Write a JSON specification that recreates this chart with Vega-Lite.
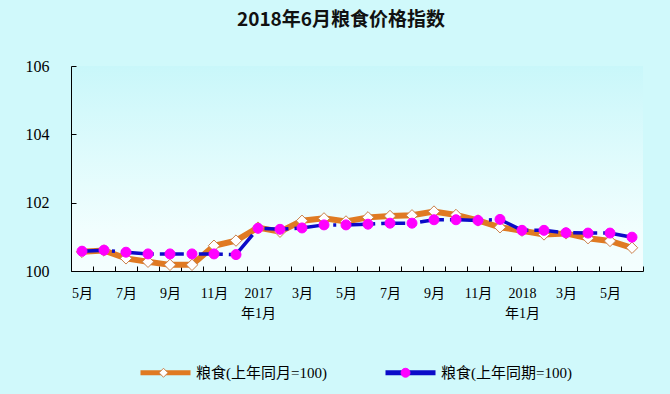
{
  "$schema": "https://vega.github.io/schema/vega-lite/v6.json",
  "width": 572,
  "height": 205,
  "autosize": {"type": "none"},
  "padding": {"left": 71, "top": 66, "right": 27, "bottom": 123},
  "background": "#d0f9fb",
  "title": {"text": "2018年6月粮食价格指数", "fontSize": 19, "font": "Noto Sans CJK SC", "fontWeight": "bold", "offset": 28, "dx": -16, "color": "#111111"},
  "config": {
    "view": {"stroke": null, "fill": {"gradient": "linear", "x1": 0, "y1": 0, "x2": 0, "y2": 1, "stops": [{"offset": 0, "color": "#c9f7fa"}, {"offset": 0.8, "color": "#f1fefe"}, {"offset": 1, "color": "#f4fefe"}]}},
    "axis": {"domainColor": "#000000", "tickColor": "#000000", "labelColor": "#000000", "grid": false, "title": null, "labelFont": "Liberation Serif, Noto Sans CJK SC"}
  },
  "data": {"values": [
    {"m": "2016-05", "s": "粮食(上年同月=100)", "v": 100.56},
    {"m": "2016-06", "s": "粮食(上年同月=100)", "v": 100.6},
    {"m": "2016-07", "s": "粮食(上年同月=100)", "v": 100.37},
    {"m": "2016-08", "s": "粮食(上年同月=100)", "v": 100.27},
    {"m": "2016-09", "s": "粮食(上年同月=100)", "v": 100.18},
    {"m": "2016-10", "s": "粮食(上年同月=100)", "v": 100.18},
    {"m": "2016-11", "s": "粮食(上年同月=100)", "v": 100.74},
    {"m": "2016-12", "s": "粮食(上年同月=100)", "v": 100.89},
    {"m": "2017-01", "s": "粮食(上年同月=100)", "v": 101.27},
    {"m": "2017-02", "s": "粮食(上年同月=100)", "v": 101.15},
    {"m": "2017-03", "s": "粮食(上年同月=100)", "v": 101.47},
    {"m": "2017-04", "s": "粮食(上年同月=100)", "v": 101.54},
    {"m": "2017-05", "s": "粮食(上年同月=100)", "v": 101.45},
    {"m": "2017-06", "s": "粮食(上年同月=100)", "v": 101.57},
    {"m": "2017-07", "s": "粮食(上年同月=100)", "v": 101.61},
    {"m": "2017-08", "s": "粮食(上年同月=100)", "v": 101.63},
    {"m": "2017-09", "s": "粮食(上年同月=100)", "v": 101.74},
    {"m": "2017-10", "s": "粮食(上年同月=100)", "v": 101.64},
    {"m": "2017-11", "s": "粮食(上年同月=100)", "v": 101.48},
    {"m": "2017-12", "s": "粮食(上年同月=100)", "v": 101.28},
    {"m": "2018-01", "s": "粮食(上年同月=100)", "v": 101.18},
    {"m": "2018-02", "s": "粮食(上年同月=100)", "v": 101.07},
    {"m": "2018-03", "s": "粮食(上年同月=100)", "v": 101.1},
    {"m": "2018-04", "s": "粮食(上年同月=100)", "v": 100.96},
    {"m": "2018-05", "s": "粮食(上年同月=100)", "v": 100.88},
    {"m": "2018-06", "s": "粮食(上年同月=100)", "v": 100.68},
    {"m": "2016-05", "s": "粮食(上年同期=100)", "v": 100.58},
    {"m": "2016-06", "s": "粮食(上年同期=100)", "v": 100.61},
    {"m": "2016-07", "s": "粮食(上年同期=100)", "v": 100.55},
    {"m": "2016-08", "s": "粮食(上年同期=100)", "v": 100.5},
    {"m": "2016-09", "s": "粮食(上年同期=100)", "v": 100.5},
    {"m": "2016-10", "s": "粮食(上年同期=100)", "v": 100.5},
    {"m": "2016-11", "s": "粮食(上年同期=100)", "v": 100.5},
    {"m": "2016-12", "s": "粮食(上年同期=100)", "v": 100.48},
    {"m": "2017-01", "s": "粮食(上年同期=100)", "v": 101.25},
    {"m": "2017-02", "s": "粮食(上年同期=100)", "v": 101.22},
    {"m": "2017-03", "s": "粮食(上年同期=100)", "v": 101.26},
    {"m": "2017-04", "s": "粮食(上年同期=100)", "v": 101.35},
    {"m": "2017-05", "s": "粮食(上年同期=100)", "v": 101.35},
    {"m": "2017-06", "s": "粮食(上年同期=100)", "v": 101.37},
    {"m": "2017-07", "s": "粮食(上年同期=100)", "v": 101.4},
    {"m": "2017-08", "s": "粮食(上年同期=100)", "v": 101.4},
    {"m": "2017-09", "s": "粮食(上年同期=100)", "v": 101.5},
    {"m": "2017-10", "s": "粮食(上年同期=100)", "v": 101.5},
    {"m": "2017-11", "s": "粮食(上年同期=100)", "v": 101.48},
    {"m": "2017-12", "s": "粮食(上年同期=100)", "v": 101.51},
    {"m": "2018-01", "s": "粮食(上年同期=100)", "v": 101.19},
    {"m": "2018-02", "s": "粮食(上年同期=100)", "v": 101.19},
    {"m": "2018-03", "s": "粮食(上年同期=100)", "v": 101.12},
    {"m": "2018-04", "s": "粮食(上年同期=100)", "v": 101.11},
    {"m": "2018-05", "s": "粮食(上年同期=100)", "v": 101.11},
    {"m": "2018-06", "s": "粮食(上年同期=100)", "v": 100.99}
  ]},
  "transform": [{"calculate": "datum.s", "as": "marker"}],
  "encoding": {
    "x": {"field": "m", "type": "ordinal", "sort": null, "scale": {"paddingInner": 0, "paddingOuter": 0},
      "axis": {"tickBand": "extent", "tickSize": -5, "labelAngle": 0, "labelFontSize": 14, "labelPadding": 20, "labelLineHeight": 20, "labelOverlap": false, "labelBaseline": "top",
        "labelExpr": "parseInt(substring(datum.value,5,7)) == 1 ? [substring(datum.value,0,4), '年1月'] : (parseInt(substring(datum.value,5,7)) % 2 == 1 ? parseInt(substring(datum.value,5,7)) + '月' : '')"}},
    "y": {"field": "v", "type": "quantitative", "scale": {"domain": [100, 106], "zero": false, "nice": false},
      "axis": {"values": [100, 102, 104, 106], "format": "d", "tickSize": -5, "labelFontSize": 16, "labelPadding": 27}}
  },
  "layer": [
    {"transform": [{"filter": "datum.s == '粮食(上年同月=100)'"}],
      "mark": {"type": "line", "strokeWidth": 6},
      "encoding": {"color": {"field": "s", "type": "nominal", "sort": null,
        "scale": {"domain": ["粮食(上年同月=100)", "粮食(上年同期=100)"], "range": ["#e07a22", "#0b0bc8"]},
        "legend": {"title": null, "orient": "none", "legendX": 67, "legendY": 279, "direction": "horizontal", "symbolType": "stroke", "symbolSize": 2500, "symbolStrokeWidth": 5, "labelFontSize": 15, "labelFont": "Liberation Serif, Noto Sans CJK SC", "labelColor": "#000000", "columnPadding": 48, "labelOffset": 3, "labelLimit": 300, "zindex": 1}}}},
    {"transform": [{"filter": "datum.s == '粮食(上年同月=100)'"}],
      "mark": {"type": "point", "filled": true, "strokeWidth": 1, "size": 130, "opacity": 1},
      "encoding": {
        "shape": {"field": "marker", "type": "nominal", "sort": null,
          "scale": {"range": ["diamond", "circle"]},
          "legend": {"title": null, "orient": "none", "legendX": 67, "legendY": 299, "direction": "horizontal", "symbolSize": 80, "symbolStrokeWidth": 1, "symbolOffset": 18, "labelExpr": "''", "labelFontSize": 15, "columnPadding": 183, "labelOffset": 26, "zindex": 2}},
        "fill": {"field": "marker", "type": "nominal", "sort": null,
          "scale": {"range": ["#ffffff", "#ff00ff"]}},
        "stroke": {"field": "marker", "type": "nominal", "sort": null,
          "scale": {"range": ["#c8804a", "#ff00ff"]}}
      }},
    {"transform": [{"filter": "datum.s == '粮食(上年同期=100)'"}],
      "mark": {"type": "line", "strokeWidth": 3.5, "strokeDash": [24, 6, 3, 6]},
      "encoding": {"color": {"field": "s", "type": "nominal", "sort": null}}},
    {"transform": [{"filter": "datum.s == '粮食(上年同期=100)'"}],
      "mark": {"type": "point", "filled": true, "strokeWidth": 1, "size": 100, "opacity": 1},
      "encoding": {
        "shape": {"field": "marker", "type": "nominal", "sort": null},
        "fill": {"field": "marker", "type": "nominal", "sort": null},
        "stroke": {"field": "marker", "type": "nominal", "sort": null}
      }}
  ]
}
